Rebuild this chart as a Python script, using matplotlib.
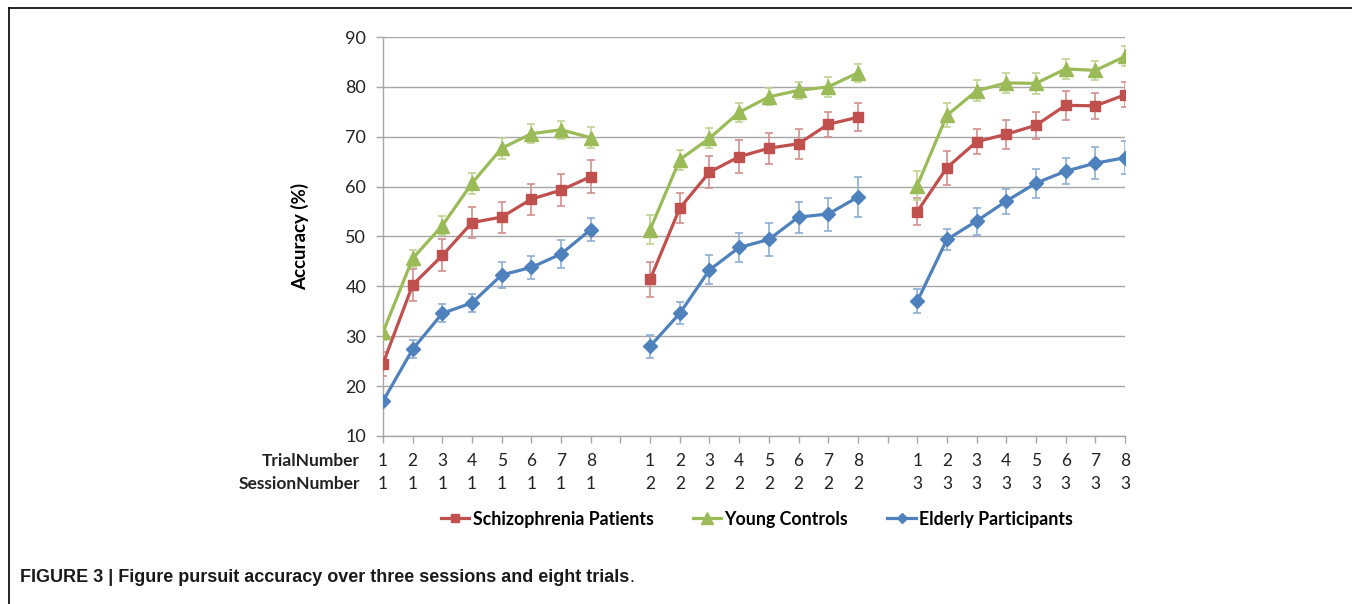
import matplotlib.pyplot as plt
import numpy as np
from matplotlib.lines import Line2D

trials = [1, 2, 3, 4, 5, 6, 7, 8]
sessions = [1, 2, 3]

# means per series, session 1..3, trial 1..8
schizo = [24.5, 40.3, 46.2, 52.8, 53.9, 57.5, 59.3, 62.0,
          41.4, 55.7, 62.9, 66.0, 67.7, 68.6, 72.5, 73.9,
          55.0, 63.8, 69.0, 70.5, 72.3, 76.3, 76.2, 78.4]
schizo_err = [2.4, 3.2, 3.2, 3.2, 3.1, 3.1, 3.2, 3.3,
              3.5, 3.0, 3.2, 3.3, 3.1, 3.0, 2.5, 2.8,
              2.7, 3.4, 2.5, 2.9, 2.7, 2.9, 2.6, 2.5]
young = [30.8, 45.6, 52.2, 60.7, 67.7, 70.6, 71.4, 69.8,
         51.4, 65.4, 69.7, 74.9, 78.0, 79.3, 80.0, 82.8,
         60.2, 74.3, 79.2, 80.8, 80.7, 83.6, 83.3, 86.1]
young_err = [1.5, 1.7, 1.9, 2.1, 2.1, 1.9, 1.8, 2.1,
             2.9, 2.0, 2.0, 1.9, 1.7, 1.7, 2.0, 1.8,
             2.9, 2.4, 2.1, 2.0, 2.1, 2.0, 1.9, 2.0]
elderly = [17.0, 27.4, 34.6, 36.7, 42.3, 43.8, 46.5, 51.4,
           28.0, 34.6, 43.3, 47.8, 49.4, 53.9, 54.5, 57.9,
           37.0, 49.4, 53.1, 57.1, 60.7, 63.1, 64.7, 65.8]
elderly_err = [1.0, 1.8, 1.8, 1.8, 2.6, 2.3, 2.8, 2.4,
               2.3, 2.2, 2.9, 2.9, 3.4, 3.1, 3.3, 4.0,
               2.4, 2.1, 2.7, 2.5, 2.9, 2.6, 3.2, 3.3]

labels = ["Schizophrenia Patients", "Young Controls", "Elderly Participants"]

RED = "#C0504D"
GREEN = "#9BBB59"
BLUE = "#4F81BD"
GRID = "#A6A6A6"

plt.rcParams["font.family"] = ["Lato", "DejaVu Sans"]

W, H = 1352, 604
fig = plt.figure(figsize=(W / 100, H / 100), dpi=100)
ax = fig.add_axes([383 / W, 1 - 436 / H, (1125 - 383) / W, (436 - 37) / H])

# one gap category between sessions
pos = np.array([(s - 1) * 9 + (t - 1) for s in sessions for t in trials])

series = [
    (schizo, schizo_err, RED, "#D0908E", "s", 7),
    (young, young_err, GREEN, "#BFD393", "^", 10),
    (elderly, elderly_err, BLUE, "#8FAED3", "D", 7),
]

for vals, err, col, ecol, mk, ms in series:
    vals = np.array(vals)
    err = np.array(err)
    ax.errorbar(pos, vals, yerr=err, fmt="none", ecolor=ecol,
                elinewidth=1.2, capsize=3, capthick=1.2, zorder=3)
    for i in range(len(sessions)):
        sl = slice(i * 8, (i + 1) * 8)
        ax.plot(pos[sl], vals[sl], color=col, lw=2.3, marker=mk,
                markersize=ms, markeredgecolor=col, zorder=4)

ax.set_xlim(0, 25)
ax.set_ylim(10, 90)
ax.set_yticks(range(10, 91, 10))
ax.set_xticks(range(0, 26))
ax.set_xticklabels([])
ax.yaxis.grid(True, color=GRID, lw=1)
ax.set_axisbelow(True)
for s in ["top", "right"]:
    ax.spines[s].set_visible(False)
for s in ["left", "bottom"]:
    ax.spines[s].set_color(GRID)
    ax.spines[s].set_linewidth(1)
ax.tick_params(axis="both", colors=GRID, length=5, width=1)
ax.tick_params(axis="y", labelcolor="#222222", labelsize=13, pad=7)

ax.set_ylabel("Accuracy (%)", fontsize=13.5, fontweight="bold", labelpad=26)

# two-row category labels
tr = ax.get_xaxis_transform()
row_y = [(461, trials * 3, "TrialNumber"),
         (484, [s for s in sessions for _ in trials], "SessionNumber")]
for py, vals, name in row_y:
    yy = (436 - py) / (436 - 37)
    for x, v in zip(pos, vals):
        ax.text(x, yy, str(v), transform=tr, ha="center", va="center",
                fontsize=12.5, color="#222222")
    fig.text(360 / W, 1 - py / H, name, ha="right", va="center",
             fontsize=12.5, fontweight="bold", color="#222222")

handles = [Line2D([], [], color=c, lw=2.3, marker=m, markersize=ms * 0.8)
           for _, _, c, _, m, ms in series]
fig.legend(handles, labels, loc="center", bbox_to_anchor=(757 / W, 1 - 519 / H),
           ncol=3, frameon=False, handlelength=1.6, handletextpad=0.2,
           columnspacing=2.2, prop={"weight": "bold", "size": 12.8})

cap = fig.text(20 / W, 1 - 578 / H,
               "FIGURE 3 | Figure pursuit accuracy over three sessions and eight trials",
               family="Liberation Sans", fontweight="bold", fontsize=13,
               color="#1a1a1a", va="center")
bb = cap.get_window_extent(renderer=fig.canvas.get_renderer())
fig.text(bb.x1 / W, 1 - 578 / H, ".", family="Liberation Sans", fontsize=13,
         color="#1a1a1a", va="center")

# frame lines around the figure panel
fig.add_artist(Line2D([9 / W, 1], [1 - 8 / H, 1 - 8 / H], color="black", lw=1.2))
fig.add_artist(Line2D([9 / W, 9 / W], [1 - 8 / H, 0], color="black", lw=1.2))

fig.savefig("out.png", dpi=100)
